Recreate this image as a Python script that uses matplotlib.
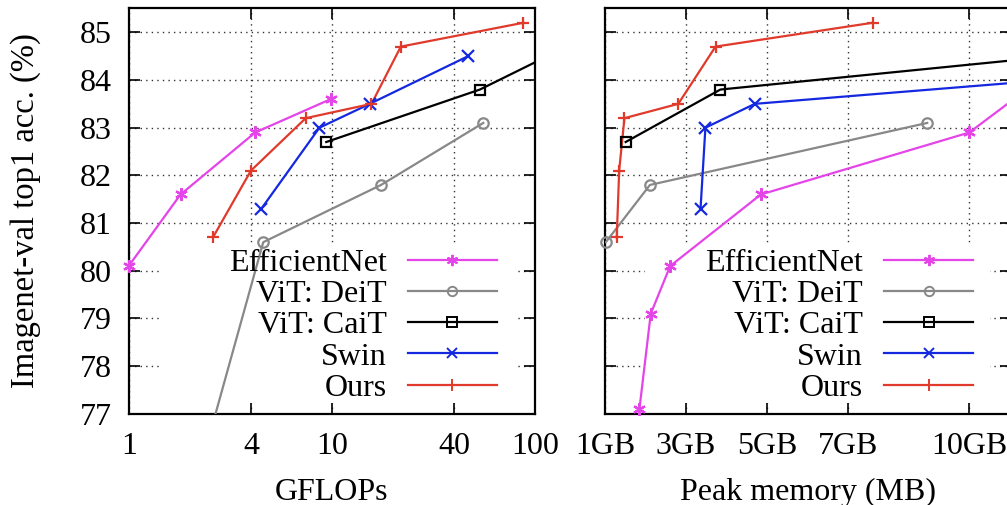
import numpy as np
import matplotlib
matplotlib.use('Agg')
import matplotlib.pyplot as plt
from matplotlib.lines import Line2D
from matplotlib.patches import Rectangle

plt.rcParams['font.family'] = ['Liberation Serif', 'DejaVu Serif']
plt.rcParams['font.size'] = 23

# top1 accuracy and cost of each model family
eff_acc = [77.1, 79.1, 80.1, 81.6, 82.9, 83.6]
eff_gflops = [0.39, 0.7, 1.0, 1.8, 4.2, 9.9]
eff_mem = [1850, 2130, 2610, 4850, 10000, 11100]

deit_acc = [72.2, 80.6, 81.8, 83.1]
deit_gflops = [1.3, 4.6, 17.5, 55.8]
deit_acc_mem = [80.6, 81.8, 83.1]
deit_mem = [1020, 2110, 8960]

cait_acc = [82.7, 83.8, 85.0]
cait_gflops = [9.4, 53.7, 200]
cait_mem = [1510, 3850, 18000]

swin_acc = [81.3, 83.0, 83.5, 84.5]
swin_gflops = [4.5, 8.7, 15.4, 47.0]
swin_mem = [3360, 3480, 4700, 19200]

ours_acc = [80.7, 82.1, 83.2, 83.5, 84.7, 85.2]
ours_gflops = [2.6, 4.0, 7.45, 15.7, 21.9, 87.9]
ours_mem = [1290, 1350, 1480, 2810, 3730, 7610]

labels = ['EfficientNet', 'ViT: DeiT', 'ViT: CaiT', 'Swin', 'Ours']
colors = ['#e444e8', '#888888', '#000000', '#1428e0', '#e03a2c']
markers = [(6, 2, 0), 'o', 's', 'x', '+']
msizes = [9, 7.5, 7.5, 8.5, 9]
yticks = [77, 78, 79, 80, 81, 82, 83, 84, 85]
gflop_ticks = [1, 4, 10, 40, 100]
gflop_labels = ['1', '4', '10', '40', '100']
mem_ticks = [1000, 3000, 5000, 7000, 10000]
mem_labels = ['1GB', '3GB', '5GB', '7GB', '10GB']

fig = plt.figure(figsize=(10.07, 5.05), dpi=100)
ax1 = fig.add_axes([0.1278, 0.1804, 0.4032, 0.8038])
ax2 = fig.add_axes([0.6008, 0.1804, 0.4032, 0.8038])


def draw(ax, xs, ys, i):
    xs = np.array(xs, dtype=float)
    ys = np.array(ys, dtype=float)
    ax.plot(xs, ys, color=colors[i], lw=1.6, zorder=3)
    x0, x1 = ax.get_xlim()
    y0, y1 = ax.get_ylim()
    keep = (xs >= x0) & (xs <= x1) & (ys >= y0) & (ys <= y1)
    mfc = 'none' if markers[i] in ('o', 's') else colors[i]
    ax.plot(xs[keep], ys[keep], ls='none', marker=markers[i], ms=msizes[i],
            mec=colors[i], mfc=mfc, mew=1.6, clip_on=False, zorder=4)


def style(ax):
    ax.set_ylim(77, 85.51)
    ax.set_yticks(yticks)
    ax.set_axisbelow(True)
    ax.grid(True, linestyle=(0, (1, 3)), color='#333333', linewidth=1.0)
    ax.tick_params(direction='in', top=True, right=True, length=8, width=1.2,
                   labelsize=23)
    ax.tick_params(axis='x', pad=13)
    ax.tick_params(axis='y', pad=12)
    ax.minorticks_off()
    for s in ax.spines.values():
        s.set_linewidth(1.6)


# GFLOPs panel
ax1.set_xscale('log')
ax1.set_xlim(1, 100)
style(ax1)
ax1.set_xticks(gflop_ticks)
ax1.set_xticklabels(gflop_labels)
ax1.minorticks_off()
draw(ax1, eff_gflops, eff_acc, 0)
draw(ax1, deit_gflops, deit_acc, 1)
draw(ax1, cait_gflops, cait_acc, 2)
draw(ax1, swin_gflops, swin_acc, 3)
draw(ax1, ours_gflops, ours_acc, 4)
ax1.set_xlabel('GFLOPs', labelpad=12)
ax1.set_ylabel('Imagenet-val top1 acc. (%)', labelpad=28, fontsize=23.5)

# memory panel
ax2.set_xlim(1000, 11030)
style(ax2)
ax2.set_xticks(mem_ticks)
ax2.set_xticklabels(mem_labels)
ax2.set_yticklabels([])
draw(ax2, eff_mem, eff_acc, 0)
draw(ax2, deit_mem, deit_acc_mem, 1)
draw(ax2, cait_mem, cait_acc, 2)
draw(ax2, swin_mem, swin_acc, 3)
draw(ax2, ours_mem, ours_acc, 4)
ax2.set_xlabel('Peak memory (MB)', labelpad=12)

handles = []
for i in range(5):
    mfc = 'none' if markers[i] in ('o', 's') else colors[i]
    handles.append(Line2D([], [], color=colors[i], lw=1.6, marker=markers[i],
                          ms=msizes[i] * 0.9, mec=colors[i], mfc=mfc, mew=1.4))

for ax, box in [(ax1, (0.077, 0.028, 0.879, 0.39)), (ax2, (0.099, 0.028, 0.85, 0.39))]:
    ax.add_patch(Rectangle(box[:2], box[2], box[3], transform=ax.transAxes,
                           facecolor='white', edgecolor='none', zorder=1))
    ax.legend(handles, labels, loc='lower right', bbox_to_anchor=(0.907, 0.027),
              frameon=False, borderpad=0, borderaxespad=0, handlelength=2.8,
              handletextpad=0.65, labelspacing=0.06, markerfirst=False,
              numpoints=1, fontsize=23)

fig.savefig('out.png', dpi=100)
